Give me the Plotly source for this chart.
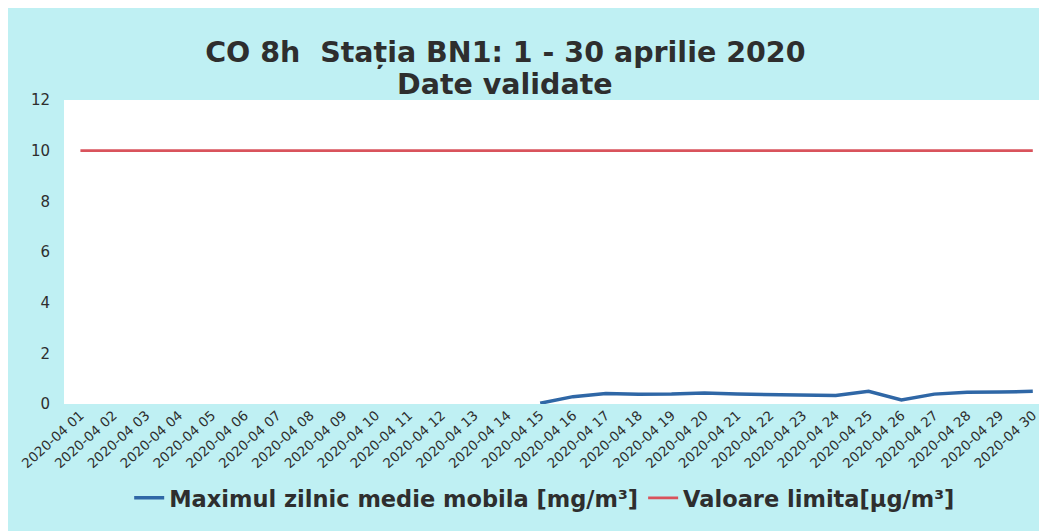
import plotly.graph_objects as go

days = [f"2020-04 {d:02d}" for d in range(1, 31)]
co_max = [None] * 14 + [0.03, 0.29, 0.41, 0.38, 0.39, 0.43, 0.39, 0.38, 0.38, 0.34,
                        0.50, 0.16, 0.39, 0.46, 0.47, 0.50]
limit = [10] * 30

title_line1 = "CO 8h\u00a0\u00a0Stația BN1: 1 - 30 aprilie 2020"
title_line2 = "Date validate"
name_co = "Maximul zilnic medie mobila [mg/m³]"
name_lim = "Valoare limita[µg/m³]"

FONT = "DejaVu Sans"
BG = "#bff0f3"
TXT = "#2e2e2e"

fig = go.Figure()
fig.add_trace(go.Scatter(x=days, y=co_max, mode="lines", name=name_co,
                         line=dict(color="#2f67a6", width=3.5), connectgaps=False))
fig.add_trace(go.Scatter(x=days, y=limit, mode="lines", name=name_lim,
                         line=dict(color="#d9535c", width=2.7)))

fig.update_layout(
    width=1047, height=531,
    paper_bgcolor=BG, plot_bgcolor="white",
    margin=dict(l=56, r=14, t=92, b=135),
    title=dict(text=f"<b>{title_line1}</b>", x=0.475, xanchor="center",
               y=0.917, yanchor="middle", xref="container", yref="container",
               font=dict(family=FONT, size=28.5, color=TXT)),
    font=dict(family=FONT, color=TXT),
    showlegend=True,
    legend=dict(orientation="h", x=0.492, xanchor="center", y=-0.31, yanchor="middle",
                font=dict(family=FONT, size=22.5, color=TXT, weight="bold"),
                bgcolor="rgba(0,0,0,0)", itemwidth=30, tracegroupgap=0),
)
fig.add_annotation(text=f"<b>{title_line2}</b>", xref="paper", yref="paper",
                   x=0.451, y=1.05, xanchor="center", yanchor="middle",
                   showarrow=False, font=dict(family=FONT, size=28.5, color=TXT))
fig.update_xaxes(type="category", range=[-0.5, 29.25], showgrid=False, zeroline=False,
                 showline=False, tickangle=-42, automargin=False,
                 tickfont=dict(family=FONT, size=13.5, color=TXT))
fig.update_yaxes(range=[0, 12], dtick=2, showgrid=False, zeroline=False, showline=False,
                 ticklabelstandoff=13, automargin=False,
                 tickfont=dict(family=FONT, size=15, color=TXT))

fig.write_html("out.html")
